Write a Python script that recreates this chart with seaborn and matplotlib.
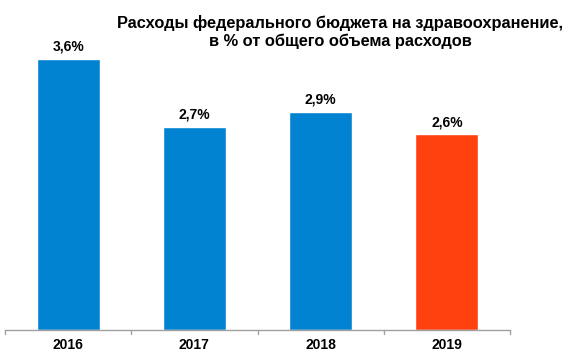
import matplotlib
matplotlib.use("Agg")
import matplotlib.pyplot as plt
import seaborn as sns
import pandas as pd

years = ["2016", "2017", "2018", "2019"]
values = [3.6, 2.7, 2.9, 2.6]
labels = ["3,6%", "2,7%", "2,9%", "2,6%"]
colors = ["#0283D1", "#0283D1", "#0283D1", "#FF400F"]
title = "Расходы федерального бюджета на здравоохранение,\nв % от общего объема расходов"

sns.set_theme(style="white")
plt.rcParams['font.family'] = ['Liberation Sans', 'DejaVu Sans']

df = pd.DataFrame({"year": years, "value": values})

fig = plt.figure(figsize=(5.78, 3.6), dpi=100)
ax = fig.add_axes([5/578, 30/360, 505/578, 310/360])
sns.barplot(data=df, x="year", y="value", hue="year", palette=colors,
            width=0.5, legend=False, ax=ax, saturation=1)
ax.set_ylim(0, 4.12)
ax.set_xlim(-0.5, 3.5)
for s in ["top", "right", "left"]:
    ax.spines[s].set_visible(False)
ax.spines["bottom"].set_color("#A0A0A0")
ax.spines["bottom"].set_linewidth(1)
ax.set_yticks([])
ax.set_xlabel("")
ax.set_ylabel("")
ax.set_xticks([0, 1, 2, 3])
ax.set_xticklabels(years, fontsize=10, fontweight="bold", color="black")
ax.tick_params(axis="x", length=0, pad=6)
# boundary ticks
for b in [-0.5, 0.5, 1.5, 2.5, 3.5]:
    ax.plot([b, b], [0, -0.05], color="#A0A0A0", lw=1, clip_on=False)

for i, (v, l) in enumerate(zip(values, labels)):
    ax.text(i, v + 0.07, l, ha="center", va="bottom", fontsize=10, fontweight="bold", color="black")

fig.text(340/578, 1 - 32/360, title, ha="center", va="center", fontsize=11.8,
         fontweight="bold", color="black", linespacing=1.2)

fig.savefig("out.png", dpi=100)
